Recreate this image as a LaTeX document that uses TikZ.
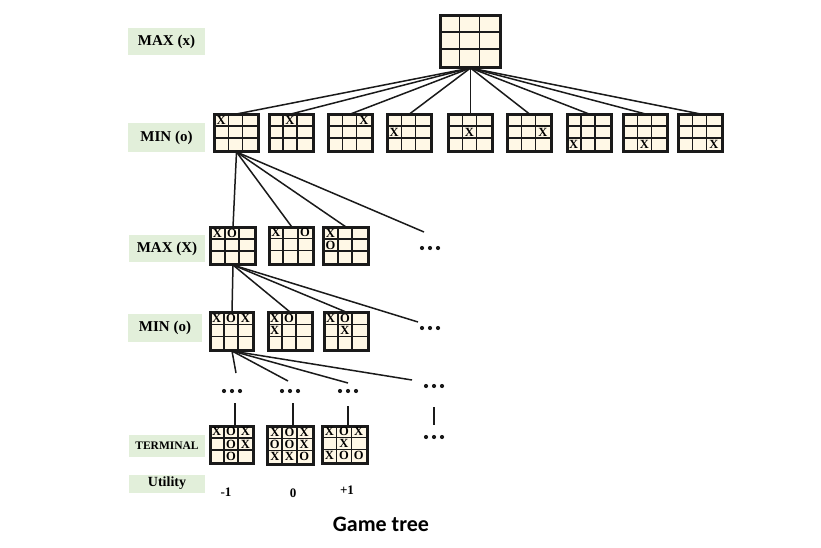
\documentclass[tikz,border=0pt]{standalone}
\usepackage{fontspec}
\setmainfont{Liberation Serif}
\newfontfamily\titlefont{Carlito}
\usetikzlibrary{calc}
\definecolor{cream}{HTML}{FFF8E6}
\definecolor{lblgreen}{HTML}{E2EFDA}
\definecolor{ink}{HTML}{1A1A1A}
\tikzset{
  boardbox/.style={draw=ink, line width=2pt, fill=cream, inner sep=0pt, rectangle},
  gridline/.style={draw=ink, line width=1.6pt},
  edge/.style={draw=ink, line width=1.5pt},
  levellabel/.style={fill=lblgreen, inner sep=0pt, font=\bfseries\fontsize{15}{18}\selectfont},
  smalllabel/.style={fill=lblgreen, inner sep=0pt, font=\bfseries\fontsize{11.5}{14}\selectfont},
  cellmark/.style={inner sep=0pt, font=\bfseries\fontsize{12.5}{14}\selectfont},
  utilval/.style={inner sep=0pt, font=\bfseries\fontsize{13}{15}\selectfont},
  dotsbox/.style={inner sep=0pt, minimum width=22pt, minimum height=4pt},
}
% name, x, y (centre), cell width, cell height
\newcommand{\tttboard}[5]{%
  \node[boardbox, minimum width=3*#4pt, minimum height=3*#5pt] (#1) at (#2,#3) {};
  \draw[gridline] ($(#1.north west)+(#4,0)$) -- ($(#1.south west)+(#4,0)$);
  \draw[gridline] ($(#1.north west)+(2*#4,0)$) -- ($(#1.south west)+(2*#4,0)$);
  \draw[gridline] ($(#1.north west)+(0,#5)$) -- ($(#1.north east)+(0,#5)$);
  \draw[gridline] ($(#1.north west)+(0,2*#5)$) -- ($(#1.north east)+(0,2*#5)$);
  \draw[draw=ink, line width=2pt] (#1.north west) rectangle (#1.south east);
}
% name, cell width, cell height, list col/row/mark
\newcommand{\tttmarks}[4]{%
  \foreach \cc/\rr/\mm in {#4} {
    \node[cellmark] at ($(#1.north west)+({(\cc+0.5)*#2},{(\rr+0.5)*#3})$) {\mm};
  }
}
\newcommand{\dotrow}[3]{%
  \node[dotsbox] (#1) at (#2,#3) {};
  \foreach \dx in {-8,0,8} { \fill[ink] ($(#1)+(\dx,0)$) circle (2.1pt); }
}
\begin{document}
\begin{tikzpicture}[x=1pt, y=-1pt]
\useasboundingbox (0,0) rectangle (821,548);
\fill[white] (0,0) rectangle (821,548);

% level labels
\node[levellabel, minimum width=77pt, minimum height=27pt] (lmax1) at (166.5,41.5) {MAX (x)};
\node[levellabel, minimum width=77pt, minimum height=29pt] (lmin1) at (166.5,137.5) {MIN (o)};
\node[levellabel, minimum width=76pt, minimum height=27pt] (lmax2) at (167,248.5) {MAX (X)};
\node[levellabel, minimum width=74pt, minimum height=28pt] (lmin2) at (165,328) {MIN (o)};
\node[smalllabel, minimum width=76pt, minimum height=22pt] (lterm) at (167,446) {TERMINAL};
\node[levellabel, font=\bfseries\fontsize{14}{16}\selectfont, minimum width=76pt, minimum height=18pt] (lutil) at (167,483.5) {Utility};

% root
\tttboard{root}{470.5}{41.5}{19.7}{17}

% level 1
\foreach \i/\xx/\c/\r in {1/236.5/0/0, 2/291/1/0, 3/350.5/2/0, 4/409.5/0/1, 5/470.5/1/1, 6/529.5/2/1, 7/589/0/2, 8/645.5/1/2, 9/700.5/2/2} {
  \tttboard{a\i}{\xx}{133}{14.33}{12}
  \tttmarks{a\i}{14.33}{12}{\c/\r/X}
  \draw[edge] (root.south) -- (a\i.north);
}

% level 2
\tttboard{b1}{233}{246}{14.5}{12}
\tttmarks{b1}{14.5}{12}{0/0/X, 1/0/O}
\tttboard{b2}{291.5}{245.5}{14.5}{12}
\tttmarks{b2}{14.5}{12}{0/0/X, 2/0/O}
\tttboard{b3}{346}{246}{14.5}{12}
\tttmarks{b3}{14.5}{12}{0/0/X, 0/1/O}
\dotrow{bd}{430}{248}
\coordinate (bdend) at (424,232);
\draw[edge] (a1.south) -- (b1.north);
\draw[edge] (a1.south) -- (b2.north);
\draw[edge] (a1.south) -- (b3.north);
\draw[edge] (a1.south) -- (bdend);

% level 3
\tttboard{c1}{232}{331.5}{14.33}{12.33}
\tttmarks{c1}{14.33}{12.33}{0/0/X, 1/0/O, 2/0/X}
\tttboard{c2}{290}{331.5}{14.33}{12.33}
\tttmarks{c2}{14.33}{12.33}{0/0/X, 1/0/O, 0/1/X}
\tttboard{c3}{346}{331.5}{14.33}{12.33}
\tttmarks{c3}{14.33}{12.33}{0/0/X, 1/0/O, 1/1/X}
\dotrow{cd}{430}{328}
\coordinate (cdend) at (418,322);
\draw[edge] (b1.south) -- (c1.north);
\draw[edge] (b1.south) -- (c2.north);
\draw[edge] (b1.south) -- (c3.north);
\draw[edge] (b1.south) -- (cdend);

% level 4 (dots)
\dotrow{d1}{232}{391}
\dotrow{d2}{290}{391}
\dotrow{d3}{348}{391}
\dotrow{d4}{434}{386}
\coordinate (d1end) at (236,373);
\coordinate (d2end) at (288,381);
\coordinate (d3end) at (348,383);
\coordinate (d4end) at (412,380);
\draw[edge] (c1.south) -- (d1end);
\draw[edge] (c1.south) -- (d2end);
\draw[edge] (c1.south) -- (d3end);
\draw[edge] (c1.south) -- (d4end);

% terminal
\tttboard{t1}{232}{445}{14.33}{12.33}
\tttmarks{t1}{14.33}{12.33}{0/0/X, 1/0/O, 2/0/X, 1/1/O, 2/1/X, 1/2/O}
\tttboard{t2}{290.5}{445.5}{14.67}{12.33}
\tttmarks{t2}{14.67}{12.33}{0/0/X, 1/0/O, 2/0/X, 0/1/O, 1/1/O, 2/1/X, 0/2/X, 1/2/X, 2/2/O}
\tttboard{t3}{345}{444.5}{14.67}{12}
\tttmarks{t3}{14.67}{12}{0/0/X, 1/0/O, 2/0/X, 1/1/X, 0/2/X, 1/2/O, 2/2/O}
\dotrow{d5}{434}{437}
\coordinate (t1top) at (235,403);
\coordinate (t2top) at (293,403);
\coordinate (t3top) at (348,406);
\draw[edge] (t1top) -- (t1.north -| t1top);
\draw[edge] (t2top) -- (t2.north -| t2top);
\draw[edge] (t3top) -- (t3.north -| t3top);
\draw[edge, shorten <=19pt, shorten >=10pt] (d4) -- (d5);

% utility values
\node[utilval] (u1) at (226,492) {-1};
\node[utilval] (u2) at (293,493) {0};
\node[utilval] (u3) at (347,490) {+1};

% title
\node[inner sep=0pt, font=\titlefont\bfseries\fontsize{22}{26}\selectfont] (title) at (381,524) {Game tree};
\end{tikzpicture}
\end{document}
